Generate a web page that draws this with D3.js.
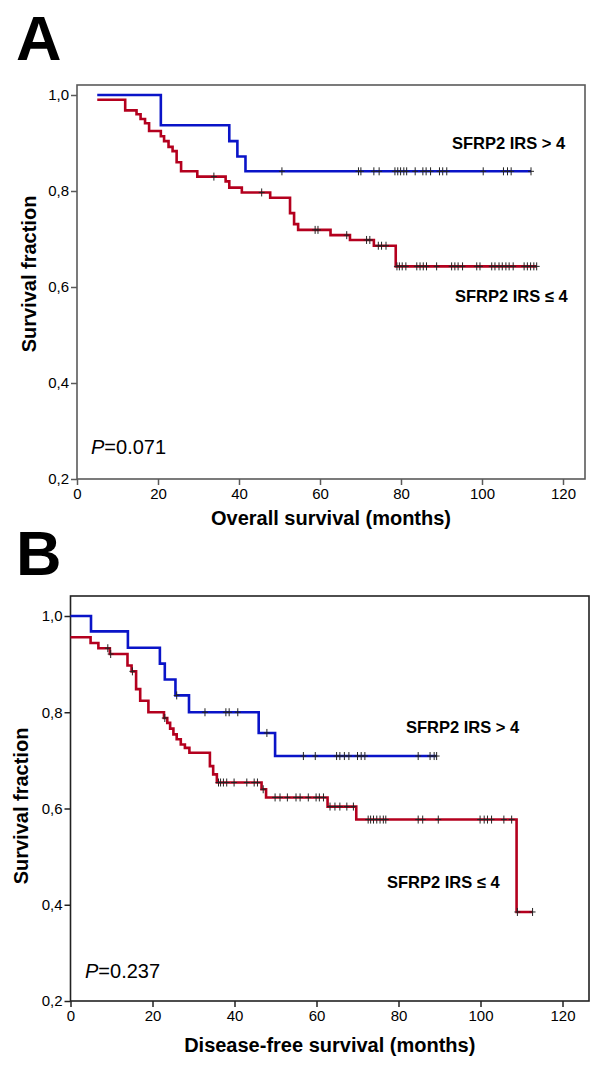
<!DOCTYPE html>
<html><head><meta charset="utf-8">
<script src="https://cdn.jsdelivr.net/npm/d3@7"></script>
<style>body{margin:0;background:#fff}svg{display:block}text{font-family:"Liberation Sans",Arial,sans-serif}</style>
</head><body>
<svg id="c" width="600" height="1070"></svg>
<script>
// ---------- DATA ----------
const xTicks = [0, 20, 40, 60, 80, 100, 120];
const yTicks = [0.2, 0.4, 0.6, 0.8, 1.0];
const yTickLabels = ["0,2", "0,4", "0,6", "0,8", "1,0"];

// Panel A – overall survival: [month, survival after step]
const aHighSteps = [[5, 1.0], [20.7, 0.937], [37.6, 0.904], [39.6, 0.872], [41.6, 0.841]];
const aHighEnd = 112.1;
const aHighCensor = [50.6, 69.5, 70.1, 73.3, 74.6, 78.5, 79.2, 79.9, 80.7, 81.4, 83.5, 85.4, 86.2, 87.3, 89.5, 90.3, 91.3, 100.3, 105.3, 106.3, 107.2, 112.1];
const aLowSteps = [[5, 0.990], [11.9, 0.968], [14.7, 0.960], [15.7, 0.950], [16.8, 0.941], [17.8, 0.925], [20.7, 0.914], [21.5, 0.904], [22.6, 0.892], [23.6, 0.883], [24.6, 0.860], [25.7, 0.841], [29.7, 0.830], [36.7, 0.820], [37.6, 0.807], [40.7, 0.797], [47.7, 0.786], [52.6, 0.754], [53.6, 0.731], [54.6, 0.719], [62.6, 0.708], [67.4, 0.698], [73.3, 0.686], [78.7, 0.643]];
const aLowEnd = 113.5;
const aLowCensor = [33.8, 45.6, 58.8, 59.5, 66.6, 71.5, 72.3, 74.4, 75.2, 76.3, 79.0, 79.6, 80.3, 81.2, 83.9, 84.7, 85.5, 86.3, 88.8, 92.5, 93.3, 94.1, 95.2, 98.7, 99.5, 102.4, 103.2, 104.2, 105.0, 105.9, 106.7, 107.7, 110.4, 111.2, 112.0, 112.8, 113.5];

// Panel B – disease-free survival
const bHighSteps = [[0, 1.0], [5.0, 0.968], [14.0, 0.934], [21.8, 0.901], [23.0, 0.868], [25.6, 0.835], [28.9, 0.800], [45.9, 0.757], [49.9, 0.709]];
const bHighEnd = 89.3;
const bHighCensor = [25.9, 32.8, 37.9, 38.7, 40.8, 47.9, 56.8, 59.7, 64.9, 65.7, 66.8, 67.9, 70.0, 70.9, 71.8, 84.8, 87.7, 88.7, 89.3];
const bLowSteps = [[0, 0.956], [4.9, 0.944], [6.8, 0.933], [9.6, 0.921], [13.9, 0.897], [14.9, 0.885], [16.0, 0.848], [17.0, 0.824], [19.0, 0.800], [22.8, 0.788], [23.6, 0.778], [24.3, 0.766], [25.1, 0.754], [25.9, 0.744], [26.9, 0.733], [27.9, 0.726], [29.0, 0.716], [34.0, 0.688], [34.8, 0.671], [35.7, 0.654], [46.6, 0.640], [47.7, 0.623], [62.7, 0.604], [69.7, 0.577], [108.8, 0.385]];
const bLowEnd = 112.7;
const bLowCensor = [9.1, 9.8, 15.1, 23.0, 36.1, 36.6, 37.3, 38.1, 39.9, 43.0, 44.8, 45.6, 47.0, 49.9, 51.1, 52.9, 55.0, 56.0, 58.0, 59.9, 60.7, 61.7, 63.3, 64.5, 65.7, 67.4, 69.0, 72.6, 73.2, 73.9, 74.7, 75.5, 76.3, 76.9, 84.8, 85.9, 89.7, 99.9, 100.9, 101.7, 102.7, 105.7, 107.6, 109.0, 112.7];

const groupLabels = ["SFRP2 IRS > 4", "SFRP2 IRS \u2264 4"];
const colors = {high: "#0a14c8", low: "#b4001e"};

// ---------- DRAW ----------
const svg = d3.select("#c");

function survAt(steps, t) {
  let s = steps[0][1];
  for (const [st, v] of steps) if (st <= t) s = v;
  return s;
}

function panel(cfg) {
  const g = svg.append("g");
  const x = d3.scaleLinear().domain([0, 120]).range([cfg.x0, cfg.x120]);
  const y = d3.scaleLinear().domain([0.2, 1.0]).range([cfg.y02, cfg.y10]);

  // frame
  g.append("rect").attr("x", cfg.x0).attr("y", cfg.top)
    .attr("width", cfg.right - cfg.x0).attr("height", cfg.y02 - cfg.top)
    .attr("fill", "none").attr("stroke", cfg.frame).attr("stroke-width", 1.6);

  // axes
  const xa = g.append("g").attr("transform", `translate(0,${cfg.y02})`)
    .call(d3.axisBottom(x).tickValues(xTicks).tickSize(6).tickSizeOuter(0).tickPadding(3));
  const ya = g.append("g").attr("transform", `translate(${cfg.x0},0)`)
    .call(d3.axisLeft(y).tickValues(yTicks).tickFormat((d, i) => yTickLabels[i]).tickSize(6).tickSizeOuter(0).tickPadding(2));
  [xa, ya].forEach(a => {
    a.select(".domain").remove();
    a.selectAll("line").attr("stroke", cfg.frame).attr("stroke-width", 1.5);
    a.selectAll("text").attr("font-size", 15).attr("fill", "#000")
      .style("font-family", '"Liberation Sans",Arial,sans-serif');
  });

  // curves
  const curves = [
    {steps: cfg.high, end: cfg.highEnd, cens: cfg.highCens, color: colors.high},
    {steps: cfg.low, end: cfg.lowEnd, cens: cfg.lowCens, color: colors.low}
  ];
  const line = d3.line().x(d => x(d[0])).y(d => y(d[1])).curve(d3.curveStepAfter);
  curves.forEach(c => {
    const pts = c.steps.concat([[c.end, c.steps[c.steps.length - 1][1]]]);
    g.append("path").attr("d", line(pts)).attr("fill", "none")
      .attr("stroke", c.color).attr("stroke-width", 2.6);
  });
  curves.forEach(c => {
    c.cens.forEach(t => {
      const cx = x(t), cy = y(survAt(c.steps, t));
      g.append("line").attr("x1", cx).attr("x2", cx).attr("y1", cy - 4).attr("y2", cy + 4)
        .attr("stroke", "#222").attr("stroke-width", 1);
      g.append("line").attr("x1", cx - 3).attr("x2", cx + 3).attr("y1", cy).attr("y2", cy)
        .attr("stroke", "#222").attr("stroke-width", 1);
    });
  });

  // labels
  g.append("text").attr("x", cfg.letterX).attr("y", cfg.letterY).attr("font-size", 63)
    .attr("font-weight", "bold").text(cfg.letter);
  g.append("text").attr("x", (cfg.x0 + cfg.right) / 2).attr("y", cfg.xTitleY)
    .attr("text-anchor", "middle").attr("font-size", 20).attr("font-weight", "bold").text(cfg.xTitle);
  g.append("text").attr("transform", `translate(${cfg.yTitleX},${cfg.yTitleY}) rotate(-90)`)
    .attr("text-anchor", "middle").attr("font-size", 20).attr("font-weight", "bold").text("Survival fraction");
  g.append("text").attr("x", cfg.hiLab[0]).attr("y", cfg.hiLab[1]).attr("font-size", 16.5)
    .attr("font-weight", "bold").text(groupLabels[0]);
  g.append("text").attr("x", cfg.loLab[0]).attr("y", cfg.loLab[1]).attr("font-size", 16.5)
    .attr("font-weight", "bold").text(groupLabels[1]);
  const p = g.append("text").attr("x", cfg.pPos[0]).attr("y", cfg.pPos[1]).attr("font-size", 20);
  p.append("tspan").attr("font-style", "italic").text("P");
  p.append("tspan").text(cfg.pText);
}

panel({
  letter: "A", letterX: 16, letterY: 60,
  x0: 77, x120: 563, right: 585, top: 85, y02: 479, y10: 95, frame: "#5a5a5a",
  high: aHighSteps, highEnd: aHighEnd, highCens: aHighCensor,
  low: aLowSteps, lowEnd: aLowEnd, lowCens: aLowCensor,
  xTitle: "Overall survival (months)", xTitleY: 525, yTitleX: 36, yTitleY: 274,
  hiLab: [452, 149], loLab: [455, 302], pPos: [91, 454], pText: "=0.071"
});
panel({
  letter: "B", letterX: 16, letterY: 575,
  x0: 70.5, x120: 562.5, right: 589, top: 596, y02: 1001, y10: 616, frame: "#222",
  high: bHighSteps, highEnd: bHighEnd, highCens: bHighCensor,
  low: bLowSteps, lowEnd: bLowEnd, lowCens: bLowCensor,
  xTitle: "Disease-free survival (months)", xTitleY: 1052, yTitleX: 28, yTitleY: 806,
  hiLab: [406, 733], loLab: [387, 888], pPos: [85, 978], pText: "=0.237"
});
</script>
</body></html>
